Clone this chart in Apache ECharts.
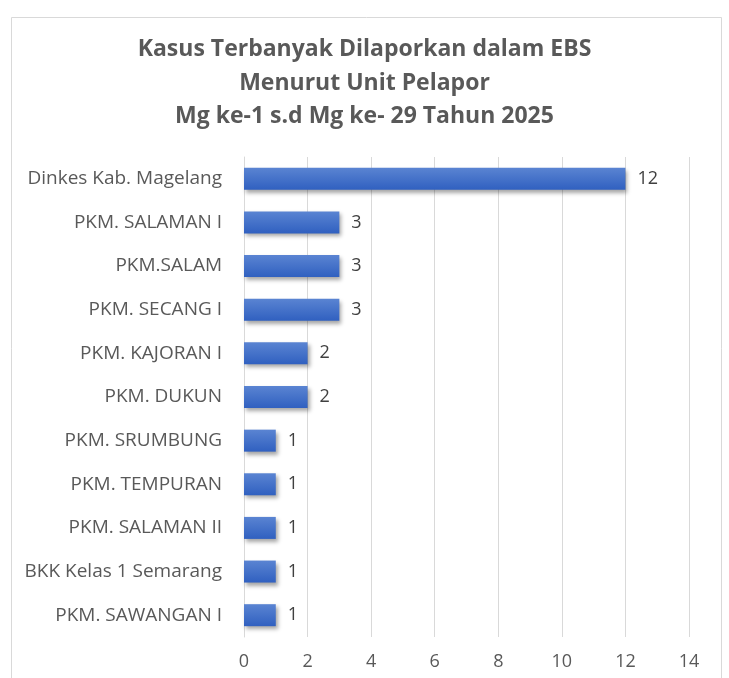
<!DOCTYPE html>
<html>
<head>
<meta charset="utf-8">
<script src="https://cdn.jsdelivr.net/npm/echarts@6/dist/echarts.min.js"></script>
<style>
  html, body { margin: 0; padding: 0; background: #fff; }
  #chart { width: 729px; height: 678px; }
</style>
</head>
<body>
<div id="chart"></div>
<script>
// unit pelapor (top to bottom)
const categories = [
  "Dinkes Kab. Magelang",
  "PKM. SALAMAN I",
  "PKM.SALAM",
  "PKM. SECANG I",
  "PKM. KAJORAN I",
  "PKM. DUKUN",
  "PKM. SRUMBUNG",
  "PKM. TEMPURAN",
  "PKM. SALAMAN II",
  "BKK Kelas 1 Semarang",
  "PKM. SAWANGAN I"
];
const values = [12, 3, 3, 3, 2, 2, 1, 1, 1, 1, 1];
const xTicks = [0, 2, 4, 6, 8, 10, 12, 14];

const chart = echarts.init(document.getElementById("chart"));
const font = "'Open Sans', 'Liberation Sans', sans-serif";

const option = {
  animation: false,
  backgroundColor: "#fff",
  textStyle: { fontFamily: font },
  title: {
    text: "Kasus Terbanyak Dilaporkan dalam EBS\nMenurut Unit Pelapor\nMg ke-1 s.d Mg ke- 29 Tahun 2025",
    left: "center",
    top: 28,
    textStyle: {
      fontFamily: font,
      fontSize: 23,
      fontWeight: "bold",
      color: "#595959",
      lineHeight: 33.5
    }
  },
  graphic: [
    {
      type: "rect",
      shape: { x: 11.5, y: 17.5, width: 710, height: 700 },
      style: { fill: "none", stroke: "#d9d9d9", lineWidth: 1 },
      silent: true,
      z: -1
    }
  ],
  grid: { left: 244, right: 40, top: 157, bottom: 41, containLabel: false },
  xAxis: {
    type: "value",
    min: xTicks[0],
    max: xTicks[xTicks.length - 1],
    interval: 2,
    axisLine: { show: false },
    axisTick: { show: false },
    axisLabel: { color: "#595959", fontSize: 18, margin: 16, fontFamily: font },
    splitLine: { show: true, lineStyle: { color: "#d9d9d9", width: 1 } }
  },
  yAxis: {
    type: "category",
    inverse: true,
    data: categories,
    axisLine: { show: true, lineStyle: { color: "#d9d9d9" } },
    axisTick: { show: false },
    axisLabel: { color: "#595959", fontSize: 19, margin: 22, fontFamily: font }
  },
  series: [
    {
      type: "bar",
      data: values,
      barWidth: 22,
      itemStyle: {
        color: new echarts.graphic.LinearGradient(0, 0, 0, 1, [
          { offset: 0, color: "#5a84d2" },
          { offset: 1, color: "#3060c0" }
        ]),
        shadowColor: "rgba(0,0,0,0.35)",
        shadowBlur: 4,
        shadowOffsetX: 2,
        shadowOffsetY: 3
      },
      label: {
        show: true,
        position: "right",
        distance: 12,
        color: "#404040",
        fontSize: 18,
        fontFamily: font
      }
    }
  ]
};

chart.setOption(option);
</script>
</body>
</html>
